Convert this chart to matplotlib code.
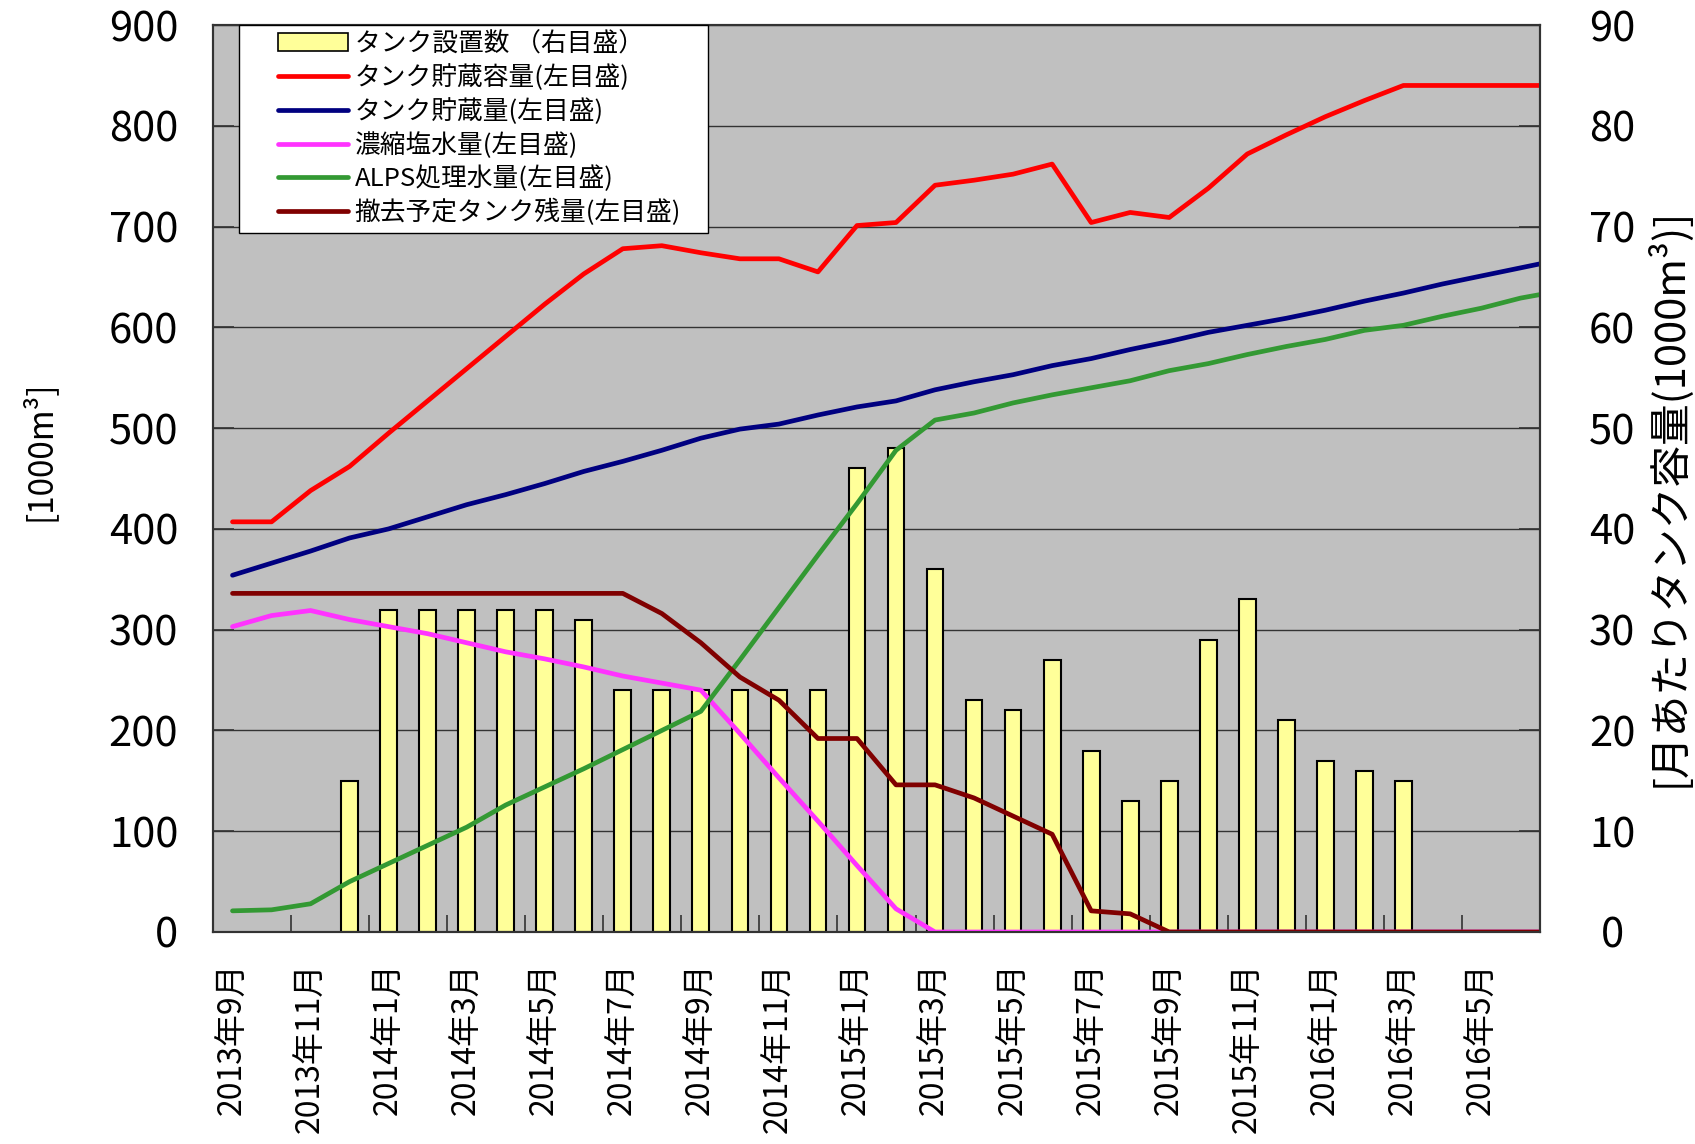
import numpy as np
import matplotlib
matplotlib.use('Agg')
import matplotlib.pyplot as plt
from matplotlib.patches import Patch
from matplotlib.lines import Line2D
from matplotlib.legend_handler import HandlerLine2D, HandlerPatch

plt.rcParams['font.family'] = ['Noto Sans CJK JP', 'DejaVu Sans']

months = ['2013年9月', '2013年10月', '2013年11月', '2013年12月',
          '2014年1月', '2014年2月', '2014年3月', '2014年4月', '2014年5月', '2014年6月',
          '2014年7月', '2014年8月', '2014年9月', '2014年10月', '2014年11月', '2014年12月',
          '2015年1月', '2015年2月', '2015年3月', '2015年4月', '2015年5月', '2015年6月',
          '2015年7月', '2015年8月', '2015年9月', '2015年10月', '2015年11月', '2015年12月',
          '2016年1月', '2016年2月', '2016年3月', '2016年4月', '2016年5月', '2016年6月',
          '2016年7月']

# monthly tank installations (right axis, 1000 m3)
tank_installed = [None, None, None, 15, 32, 32, 32, 32, 32, 31, 24, 24, 24, 24, 24, 24,
                  46, 48, 36, 23, 22, 27, 18, 13, 15, 29, 33, 21, 17, 16, 15,
                  None, None, None, None]
# left axis series (1000 m3)
tank_capacity = [407, 407, 438, 462, 495, 527, 559, 591, 623, 653, 678, 681, 674, 668, 668, 655,
                 701, 704, 741, 746, 752, 762, 704, 714, 709, 738, 772, 791, 809, 825, 840,
                 840, 840, 840, 840]
tank_storage = [354, 366, 378, 391, 400, 412, 424, 434, 445, 457, 467, 478, 490, 499, 504, 513,
                521, 527, 538, 546, 553, 562, 569, 578, 586, 595, 602, 609, 617, 626, 634,
                643, 651, 659, 667]
concentrated_salt = [303, 314, 319, 310, 303, 296, 287, 278, 271, 263, 254, 247, 240, 197, 153, 110,
                     66, 23, 0, 0, 0, 0, 0, 0, 0, 0, 0, 0, 0, 0, 0,
                     0, 0, 0, 0]
alps_treated = [21, 22, 28, 50, 68, 86, 104, 126, 144, 162, 181, 200, 219, 270, 322, 374,
                425, 478, 508, 515, 525, 533, 540, 547, 557, 564, 573, 581, 588, 597, 602,
                611, 619, 629, 636]
removal_tanks = [336, 336, 336, 336, 336, 336, 336, 336, 336, 336, 336, 316, 287, 253, 230, 192,
                 192, 146, 146, 133, 115, 97, 21, 18, 0, 0, 0, 0, 0, 0, 0,
                 0, 0, 0, 0]

labels = ['タンク設置数 （右目盛）', 'タンク貯蔵容量(左目盛)', 'タンク貯蔵量(左目盛)',
          '濃縮塩水量(左目盛)', 'ALPS処理水量(左目盛)', '撤去予定タンク残量(左目盛)']
line_colors = ['#FF0000', '#000080', '#FF33FF', '#339933', '#800000']

W, H = 1695, 1144
fig = plt.figure(figsize=(W / 100, H / 100), dpi=100)
L, R, T, B = 213, 1540, 25, 932
axb = fig.add_axes([L / W, 1 - B / H, (R - L) / W, (B - T) / H])
axb.set_facecolor('#C0C0C0')

x = np.arange(len(months))
bar_vals = np.array([np.nan if v is None else v for v in tank_installed], dtype=float)
axb.bar(x, bar_vals, width=0.43, color='#FFFF99', edgecolor='black', linewidth=1.5, zorder=2)
axb.set_ylim(0, 90)
axb.set_yticks(np.arange(0, 91, 10))
axb.grid(axis='y', color='#333333', linewidth=1.0, zorder=1)
axb.set_axisbelow(True)
axb.set_xlim(-0.5, 33.5)
axb.set_xticks(x[0:34:2])
axb.set_xticklabels(months[0:34:2], rotation=90, fontsize=23)
axb.set_xticks(np.arange(1.5, 33, 2), minor=True)
axb.tick_params(axis='x', which='major', length=0, pad=22)
axb.tick_params(axis='x', which='minor', direction='in', length=12, width=1.2, color='#333333')

axl = axb.twinx()
# bars axis keeps its ticks on the right, the line axis on the left
axb.yaxis.tick_right()
axl.yaxis.tick_left()
axb.tick_params(axis='y', which='major', direction='in', length=15, width=1.2, color='#333333',
                labelsize=30, pad=52)
for lab in axb.get_yticklabels():
    lab.set_ha('center')

series = [tank_capacity, tank_storage, concentrated_salt, alps_treated, removal_tanks]
handles = [Patch(facecolor='#FFFF99', edgecolor='black', linewidth=1.2)]
for s, c in zip(series, line_colors):
    axl.plot(x, s, color=c, linewidth=3.4, solid_capstyle='round', solid_joinstyle='round')
    handles.append(Line2D([], [], color=c, linewidth=3.4, solid_capstyle='round'))
axl.set_ylim(0, 900)
axl.set_yticks(np.arange(0, 901, 100))
axl.set_xlim(-0.5, 33.5)
axl.tick_params(axis='y', which='major', direction='in', length=15, width=1.2, color='#333333',
                labelsize=30, pad=25)

for a in (axb, axl):
    for sp in a.spines.values():
        sp.set_color('#333333')
        sp.set_linewidth(1.5)

fs = 18.5
leg = axl.legend(handles, labels, loc='upper left',
                 bbox_to_anchor=(0.0196, 0.5, (708 - 239) / (R - L), 0.5), mode='expand',
                 fontsize=fs, frameon=True, fancybox=False, edgecolor='black', framealpha=1,
                 borderaxespad=0, handlelength=4.0, handletextpad=0.25, labelspacing=0.27,
                 borderpad=0.25,
                 handler_map={Line2D: HandlerLine2D(xpad=1.25), Patch: HandlerPatch(xpad=1.25)})
leg.get_frame().set_linewidth(1.0)

fig.text(40 / W, 1 - 451 / H, '[1000m³]', rotation=90, ha='center', va='center', fontsize=24)
fig.text(1668 / W, 1 - 497 / H, '[月あたりタンク容量(1000m³)]', rotation=90, ha='center',
         va='center', fontsize=30)

fig.savefig('out.png', dpi=100, facecolor='white')
